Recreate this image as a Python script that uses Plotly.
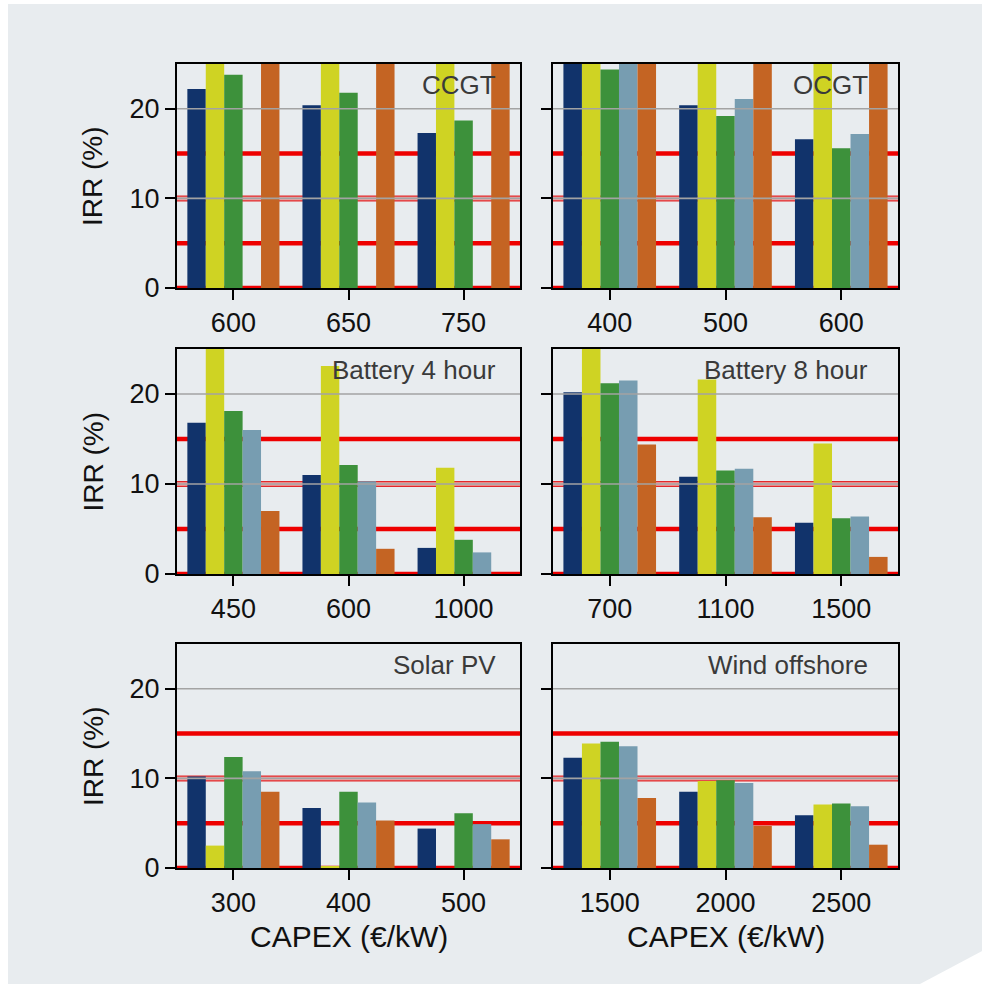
import plotly.graph_objects as go

# Five scenarios, drawn in this order inside each CAPEX group
series_names = ["Scenario 1", "Scenario 2", "Scenario 3", "Scenario 4", "Scenario 5"]
series_colors = ["#11336b", "#cfd323", "#3d913b", "#779db1", "#c46423"]

# Technology panels (row-major order)
panel_titles = ["CCGT", "OCGT", "Battery 4 hour", "Battery 8 hour", "Solar PV", "Wind offshore"]

# CAPEX levels (€/kW) per technology
capex_ccgt = ["600", "650", "750"]
capex_ocgt = ["400", "500", "600"]
capex_bat4 = ["450", "600", "1000"]
capex_bat8 = ["700", "1100", "1500"]
capex_solar = ["300", "400", "500"]
capex_wind = ["1500", "2000", "2500"]

# IRR (%) per scenario, one list per scenario, values per CAPEX level
irr_ccgt = [[22.2, 20.4, 17.3], [28.0, 28.0, 28.0], [23.8, 21.8, 18.7], [None, None, None], [28.0, 28.0, 28.0]]
irr_ocgt = [[27.0, 20.4, 16.6], [28.0, 28.0, 28.0], [24.4, 19.2, 15.6], [27.0, 21.1, 17.2], [28.0, 28.0, 28.0]]
irr_bat4 = [[16.8, 11.0, 2.9], [26.0, 23.1, 11.8], [18.1, 12.1, 3.8], [16.0, 10.3, 2.4], [7.0, 2.8, 0.0]]
irr_bat8 = [[20.2, 10.8, 5.7], [26.0, 21.6, 14.5], [21.2, 11.5, 6.2], [21.5, 11.7, 6.4], [14.4, 6.3, 1.9]]
irr_solar = [[10.2, 6.7, 4.4], [2.5, 0.2, 0.0], [12.4, 8.5, 6.1], [10.8, 7.3, 4.9], [8.5, 5.3, 3.2]]
irr_wind = [[12.3, 8.5, 5.9], [13.9, 9.7, 7.1], [14.1, 9.8, 7.2], [13.6, 9.5, 6.9], [7.8, 4.7, 2.6]]

panel_capex = [capex_ccgt, capex_ocgt, capex_bat4, capex_bat8, capex_solar, capex_wind]
panel_irr = [irr_ccgt, irr_ocgt, irr_bat4, irr_bat8, irr_solar, irr_wind]

# Hurdle-rate reference lines and light grid levels (IRR %)
hurdle_levels = [0, 5, 15]
hurdle_mid = 10
grid_levels = [10, 20]

y_ticks = [0, 10, 20]
y_max = 25

W = H = 984
BG = "#e8ecef"
FONT = "Liberation Sans, Arial, sans-serif"

# Subplot boxes in pixels: (left, right) columns and (top, bottom) rows
cols_px = [(177, 520), (553, 898)]
rows_px = [(64, 288), (349, 574), (644, 868)]

fig = go.Figure()
layout = dict(
    width=W, height=H, autosize=False,
    margin=dict(l=0, r=0, t=0, b=0, pad=0, autoexpand=False),
    paper_bgcolor=BG, plot_bgcolor=BG,
    barmode="group", bargap=0.2, bargroupgap=0.0,
    showlegend=False,
    font=dict(family=FONT, size=27, color="#111111"),
)
shapes = []
annotations = []

for i in range(6):
    r, c = divmod(i, 2)
    n = i + 1
    xa = "x" if n == 1 else f"x{n}"
    ya = "y" if n == 1 else f"y{n}"
    (x0, x1), (y0, y1) = cols_px[c], rows_px[r]

    for s in range(5):
        fig.add_trace(go.Bar(
            x=panel_capex[i], y=panel_irr[i][s], name=series_names[s],
            marker=dict(color=series_colors[s], line=dict(width=0)),
            xaxis=xa, yaxis=ya, showlegend=False,
            hovertemplate="%{x}: %{y}%<extra>" + series_names[s] + "</extra>",
        ))

    axis_common = dict(
        automargin=False,
        showline=True, mirror=True, linecolor="black", linewidth=2,
        ticks="outside", ticklen=10, tickwidth=2, tickcolor="black",
        showgrid=False, zeroline=False,
        tickfont=dict(family=FONT, size=27, color="#111111"),
    )
    layout["xaxis" if n == 1 else f"xaxis{n}"] = dict(
        axis_common, domain=[x0 / W, x1 / W], anchor=ya,
        type="category", range=[-0.49, 2.49],
    )
    layout["yaxis" if n == 1 else f"yaxis{n}"] = dict(
        axis_common, domain=[1 - y1 / H, 1 - y0 / H], anchor=xa,
        range=[0, y_max], tickvals=y_ticks, showticklabels=(c == 0),
    )

    xref = f"{xa} domain"
    # hurdle lines sit behind the bars
    for lv in hurdle_levels:
        shapes.append(dict(type="line", xref=xref, yref=ya, x0=0, x1=1, y0=lv, y1=lv,
                           line=dict(color="#ee0000", width=4.5), layer="below"))
    shapes.append(dict(type="line", xref=xref, yref=ya, x0=0, x1=1, y0=hurdle_mid, y1=hurdle_mid,
                       line=dict(color="#e2282b", width=6), layer="below"))
    shapes.append(dict(type="line", xref=xref, yref=ya, x0=0, x1=1, y0=hurdle_mid, y1=hurdle_mid,
                       line=dict(color="#f0a7a7", width=3.5), layer="below"))
    # grid lines drawn over the bars
    for lv in grid_levels:
        shapes.append(dict(type="line", xref=xref, yref=ya, x0=0, x1=1, y0=lv, y1=lv,
                           line=dict(color="#a3a3a3", width=1.6), layer="above"))

    annotations.append(dict(
        text=panel_titles[i], xref=xref, yref=f"{ya} domain",
        x=0.935 if c == 0 else 0.92, y=1, yshift=-4,
        xanchor="right", yanchor="top", showarrow=False,
        font=dict(family=FONT, size=26, color="#3a3a3a"),
    ))

    if c == 0:
        annotations.append(dict(
            text="IRR (%)", xref="paper", yref="paper",
            x=93 / W, y=1 - (y0 + y1) / 2 / H, textangle=-90,
            xanchor="center", yanchor="middle", showarrow=False,
            font=dict(family=FONT, size=28, color="#111111"),
        ))
    if r == 2:
        annotations.append(dict(
            text="CAPEX (€/kW)", xref="paper", yref="paper",
            x=(x0 + x1) / 2 / W, y=1 - 936 / H,
            xanchor="center", yanchor="middle", showarrow=False,
            font=dict(family=FONT, size=30, color="#111111"),
        ))

# white page edges around the grey panel background
shapes += [
    dict(type="rect", xref="paper", yref="paper", x0=0, x1=8 / W, y0=0, y1=1,
         fillcolor="white", line=dict(width=0), layer="below"),
    dict(type="rect", xref="paper", yref="paper", x0=0, x1=1, y0=1 - 4 / H, y1=1,
         fillcolor="white", line=dict(width=0), layer="below"),
    dict(type="rect", xref="paper", yref="paper", x0=982 / W, x1=1, y0=0, y1=1,
         fillcolor="white", line=dict(width=0), layer="below"),
    dict(type="path", xref="paper", yref="paper",
         path=f"M {920 / W} 0 L 1 0 L 1 {1 - 950 / H} Z",
         fillcolor="white", line=dict(width=0), layer="below"),
]

layout["shapes"] = shapes
layout["annotations"] = annotations
fig.update_layout(**layout)
fig.write_html("out.html")
